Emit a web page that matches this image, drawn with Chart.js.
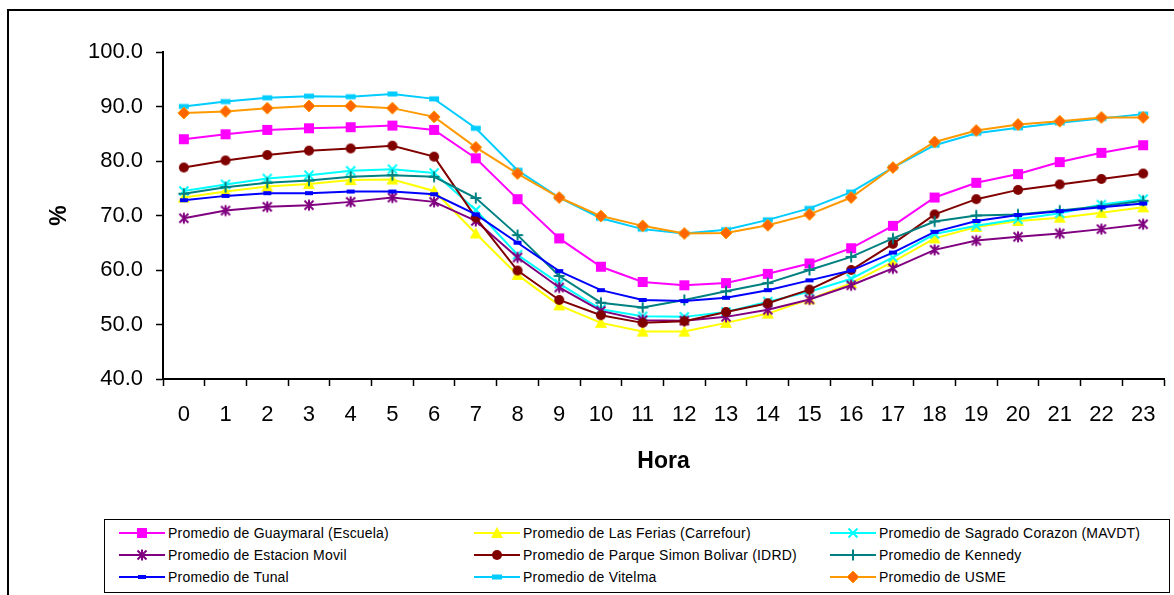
<!DOCTYPE html>
<html>
<head>
<meta charset="utf-8">
<script src="https://cdn.jsdelivr.net/npm/chart.js@4"></script>
<style>
  html, body { margin:0; padding:0; background:#fff; }
  body { width:1174px; height:595px; overflow:hidden; position:relative; font-family:'Liberation Sans', Arial, sans-serif; }
  #frame { position:absolute; left:7px; top:9px; width:1180px; height:600px; border:2px solid #000; box-sizing:border-box; }
  #wrap { position:absolute; left:0; top:0; width:1174px; height:595px; }
  #legend { position:absolute; left:104px; top:519px; width:1066px; height:74px; border:1px solid #000; box-sizing:border-box; background:#fff; }
  .item { position:absolute; height:14px; display:flex; align-items:center; white-space:nowrap; font-size:14px; letter-spacing:0.2px; color:#000; }
  .item canvas { display:block; margin-right:3px; }
</style>
</head>
<body>
<div id="frame"></div>
<div id="wrap"><canvas id="c" width="1174" height="595"></canvas></div>
<div id="legend"></div>
<script>
// ---- data ----
const hours = ['0','1','2','3','4','5','6','7','8','9','10','11','12','13','14','15','16','17','18','19','20','21','22','23'];
const yTickMin = 40, yTickMax = 100, yTickStep = 10;

const seriesNames = [
  'Promedio de Guaymaral (Escuela)',
  'Promedio de Las Ferias (Carrefour)',
  'Promedio de Sagrado Corazon (MAVDT)',
  'Promedio de Estacion Movil',
  'Promedio de Parque Simon Bolivar (IDRD)',
  'Promedio de Kennedy',
  'Promedio de Tunal',
  'Promedio de Vitelma',
  'Promedio de USME'
];

const guaymaral = [84.0, 84.9, 85.7, 86.0, 86.2, 86.5, 85.7, 80.5, 73.0, 65.8, 60.6, 57.8, 57.2, 57.6, 59.3, 61.2, 64.0, 68.1, 73.3, 76.0, 77.6, 79.8, 81.5, 82.9];
const lasFerias = [73.3, 74.4, 75.3, 75.8, 76.5, 76.6, 74.5, 66.7, 59.1, 53.5, 50.3, 48.7, 48.7, 50.3, 52.0, 54.6, 57.6, 61.5, 65.8, 67.9, 69.0, 69.6, 70.5, 71.5];
const sagradoCorazon = [74.5, 75.7, 76.8, 77.4, 78.2, 78.5, 77.8, 71.0, 62.8, 57.5, 52.8, 51.5, 51.4, 52.3, 54.2, 56.0, 58.4, 62.3, 66.6, 68.1, 69.3, 70.4, 72.0, 73.0];
const estacionMovil = [69.5, 70.9, 71.6, 71.9, 72.5, 73.3, 72.5, 69.0, 62.3, 56.8, 52.5, 50.8, 50.7, 51.4, 52.7, 54.6, 57.2, 60.3, 63.7, 65.4, 66.1, 66.7, 67.5, 68.4];
const parqueSimonBolivar = [78.8, 80.1, 81.1, 81.9, 82.3, 82.8, 80.8, 69.6, 59.9, 54.5, 51.7, 50.3, 50.6, 52.3, 53.9, 56.4, 60.0, 64.8, 70.2, 73.0, 74.7, 75.7, 76.7, 77.7];
const kennedy = [74.0, 75.2, 76.0, 76.4, 77.1, 77.4, 77.1, 73.2, 66.4, 58.9, 54.0, 53.1, 54.5, 56.1, 57.6, 60.0, 62.4, 65.8, 68.9, 70.0, 70.2, 70.9, 71.7, 72.7];
const tunal = [72.8, 73.6, 74.1, 74.1, 74.4, 74.4, 73.9, 70.2, 65.0, 59.8, 56.3, 54.5, 54.3, 54.9, 56.3, 58.1, 59.9, 63.2, 67.0, 69.0, 70.1, 70.8, 71.5, 72.2];
const vitelma = [90.0, 90.9, 91.6, 91.9, 91.8, 92.3, 91.4, 86.0, 78.3, 73.3, 69.5, 67.5, 66.7, 67.4, 69.2, 71.3, 74.3, 78.8, 82.9, 85.1, 86.1, 87.0, 87.8, 88.6];
const usme = [88.8, 89.1, 89.7, 90.1, 90.1, 89.7, 88.1, 82.5, 77.7, 73.3, 69.9, 68.1, 66.7, 66.8, 68.2, 70.2, 73.3, 78.8, 83.5, 85.6, 86.7, 87.3, 88.0, 88.0];

const seriesValues = [guaymaral, lasFerias, sagradoCorazon, estacionMovil, parqueSimonBolivar, kennedy, tunal, vitelma, usme];

// ---- styles ----
const styles = [
  {line:'#FF00FF', kind:'square',  fill:'#FF00FF', stroke:'#FF00FF'},
  {line:'#FFFF00', kind:'triangle',fill:'#FFFF00', stroke:'#FFFF00'},
  {line:'#00FFFF', kind:'x',       fill:'#00FFFF', stroke:'#00FFFF'},
  {line:'#800080', kind:'star',    fill:'#800080', stroke:'#800080'},
  {line:'#800000', kind:'circle',  fill:'#800000', stroke:'#800000'},
  {line:'#008080', kind:'plus',    fill:'#008080', stroke:'#008080'},
  {line:'#0000FF', kind:'dash',    fill:'#0000FF', stroke:'#0000FF'},
  {line:'#00CCFF', kind:'bar',     fill:'#00CCFF', stroke:'#00CCFF'},
  {line:'#FF9900', kind:'diamond', fill:'#FF6600', stroke:'#FF9900'}
];

function drawMarker(g, kind, cx, cy, fill, stroke) {
  g.fillStyle = fill; g.strokeStyle = stroke; g.lineWidth = 2; g.lineCap = 'butt';
  g.beginPath();
  switch (kind) {
    case 'square': g.fillRect(cx-5, cy-5, 10, 10); break;
    case 'triangle':
      g.moveTo(cx, cy-6); g.lineTo(cx+6, cy+5); g.lineTo(cx-6, cy+5); g.closePath(); g.fill(); break;
    case 'x':
      g.moveTo(cx-4.5, cy-4.5); g.lineTo(cx+4.5, cy+4.5); g.moveTo(cx+4.5, cy-4.5); g.lineTo(cx-4.5, cy+4.5); g.stroke(); break;
    case 'star':
      g.moveTo(cx-4.5, cy-4.5); g.lineTo(cx+4.5, cy+4.5); g.moveTo(cx+4.5, cy-4.5); g.lineTo(cx-4.5, cy+4.5);
      g.moveTo(cx, cy-5.5); g.lineTo(cx, cy+5.5); g.stroke(); break;
    case 'circle': g.arc(cx, cy, 5, 0, Math.PI*2); g.fill(); break;
    case 'plus':
      g.moveTo(cx-5.5, cy); g.lineTo(cx+5.5, cy); g.moveTo(cx, cy-5.5); g.lineTo(cx, cy+5.5); g.stroke(); break;
    case 'dash': g.fillRect(cx-4, cy-2, 8, 4); break;
    case 'bar': g.fillRect(cx-5, cy-2.5, 10, 5); break;
    case 'diamond':
      g.moveTo(cx, cy-6); g.lineTo(cx+6, cy); g.lineTo(cx, cy+6); g.lineTo(cx-6, cy); g.closePath(); g.fill();
      g.lineWidth = 1; g.stroke(); break;
  }
}

function markerCanvas(st) {
  const c = document.createElement('canvas'); c.width = 16; c.height = 16;
  drawMarker(c.getContext('2d'), st.kind, 8, 8, st.fill, st.stroke);
  return c;
}

function swatchCanvas(st) {
  const c = document.createElement('canvas'); c.width = 46; c.height = 14;
  const g = c.getContext('2d');
  g.strokeStyle = st.line; g.lineWidth = 2;
  g.beginPath(); g.moveTo(0, 7); g.lineTo(46, 7); g.stroke();
  drawMarker(g, st.kind, 23, 7, st.fill, st.stroke);
  return c;
}

const FONT = "'Liberation Sans', Arial, sans-serif";

const datasets = seriesValues.map((vals, i) => ({
  label: seriesNames[i],
  data: vals,
  borderColor: styles[i].line,
  backgroundColor: styles[i].fill,
  borderWidth: 2,
  tension: 0,
  fill: false,
  pointStyle: markerCanvas(styles[i]),
  pointRadius: 5,
  pointHoverRadius: 5,
  order: seriesValues.length - i
}));

new Chart(document.getElementById('c'), {
  type: 'line',
  data: { labels: hours, datasets },
  options: {
    responsive: false,
    animation: false,
    devicePixelRatio: 1,
    events: [],
    layout: { padding: { left: 45, top: 52, right: 10, bottom: 116 } },
    plugins: { legend: { display: false }, tooltip: { enabled: false } },
    scales: {
      x: {
        type: 'category',
        offset: true,
        grid: { offset: true, drawOnChartArea: false, drawTicks: true, tickLength: 7, tickColor: '#000', tickWidth: 1.5 },
        border: { display: true, color: '#000', width: 2 },
        ticks: { color: '#000', font: { family: FONT, size: 22 }, padding: 16, maxRotation: 0, autoSkip: false },
        title: { display: true, text: 'Hora', color: '#000', font: { family: FONT, size: 23, weight: 'bold' }, padding: { top: 4, bottom: 4 } },
        afterFit: s => { s.height = 100; }
      },
      y: {
        min: yTickMin, max: yTickMax,
        grid: { drawOnChartArea: false, drawTicks: true, tickLength: 7, tickColor: '#000', tickWidth: 1.5 },
        border: { display: true, color: '#000', width: 2 },
        ticks: { stepSize: yTickStep, color: '#000', font: { family: FONT, size: 22 }, padding: 13, callback: v => Number(v).toFixed(1) },
        title: { display: true, text: '%', color: '#000', font: { family: FONT, size: 23, weight: 'bold' }, padding: { top: 1, bottom: 0 } },
        afterFit: s => { s.width = 118; }
      }
    }
  }
});

// ---- legend (HTML, built from the series) ----
const legend = document.getElementById('legend');
const colX = [14, 369, 725];
const rowY = [6, 28, 50];
seriesNames.forEach((name, i) => {
  const row = Math.floor(i / 3), col = i % 3;
  const it = document.createElement('div');
  it.className = 'item';
  it.style.left = colX[col] + 'px';
  it.style.top = rowY[row] + 'px';
  it.appendChild(swatchCanvas(styles[i]));
  const sp = document.createElement('span');
  sp.textContent = name;
  it.appendChild(sp);
  legend.appendChild(it);
});
</script>
</body>
</html>
